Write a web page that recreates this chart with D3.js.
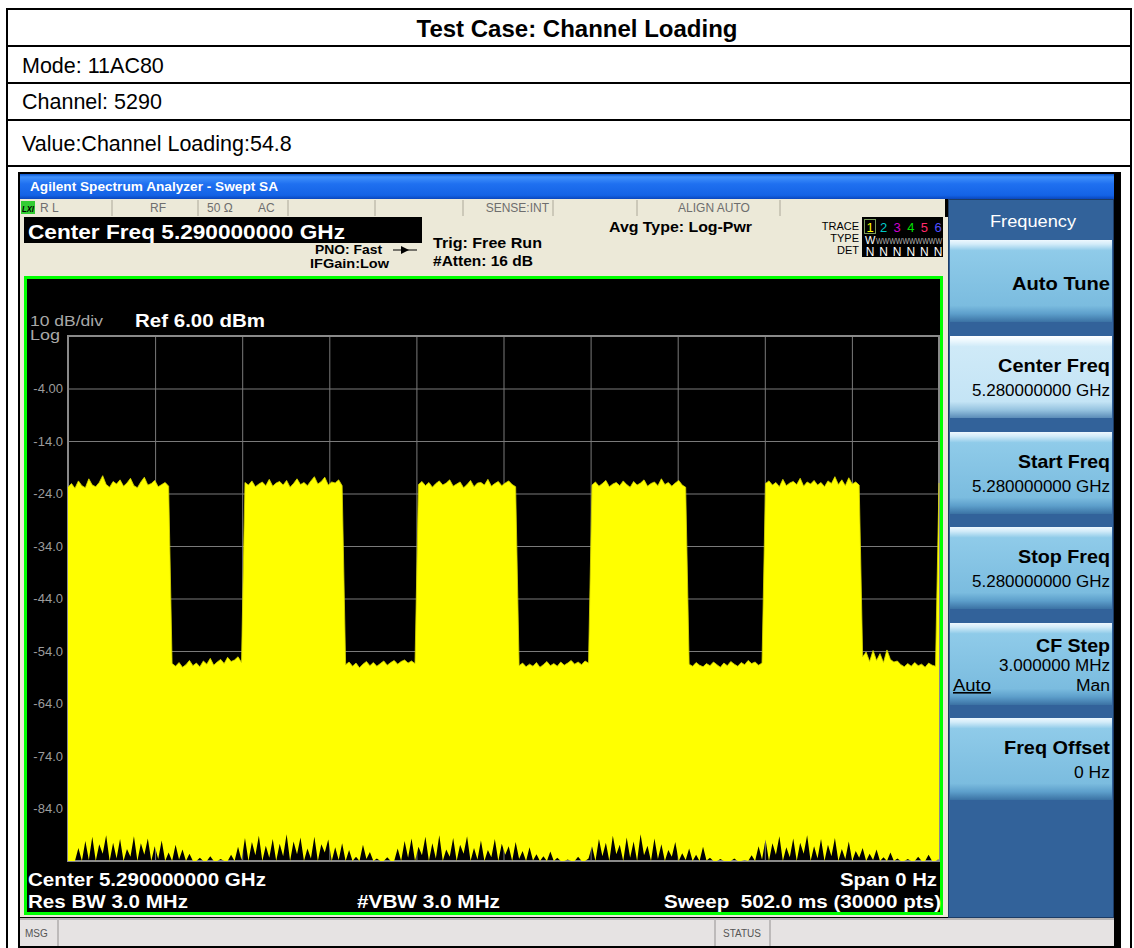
<!DOCTYPE html>
<html>
<head>
<meta charset="utf-8">
<title>Test Case: Channel Loading</title>
<script src="https://d3js.org/d3.v7.min.js"></script>
<style>
  body { margin: 0; background: #fff; }
  svg { display: block; }
  text { font-family: "Liberation Sans", Arial, sans-serif; white-space: pre; }
</style>
</head>
<body>
<svg id="page" width="1134" height="948"></svg>
<script>
// ---- values ----
const caseTitle = 'Test Case: Channel Loading';
const caseRows = ['Mode: 11AC80', 'Channel: 5290', 'Value:Channel Loading:54.8'];

const refLevel = 6;          // dBm, top of graticule
const dbPerDiv = 10;
const yDivs = 10, xDivs = 10;
const sweepMs = 502;
const sampleStepMs = 2;      // one envelope value every 2 ms
const yTickValues = [-4, -14, -24, -34, -44, -54, -64, -74, -84];
const yTickLabels = ['-4.00', '-14.0', '-24.0', '-34.0', '-44.0', '-54.0', '-64.0', '-74.0', '-84.0'];

// upper envelope of the zero-span trace (dBm)
const traceMax = [
  -22.8,-22.1,-23.0,-21.6,-22.5,-22.9,-21.2,-22.4,-22.7,-21.9,-20.6,-22.3,-22.8,-21.7,-22.2,-21.4,-22.6,-22.0,-21.1,-22.5,-22.9,-21.8,-20.9,-22.4,-22.1,-21.5,-22.7,-22.3,-21.9,-22.6,
  -56.4,-56.9,-56.2,-57.1,-56.6,-55.8,-56.8,-56.3,-57.0,-55.9,-56.5,-55.4,-56.7,-56.1,-55.6,-56.4,-55.2,-56.0,-55.7,-55.1,-56.2,
  -21.9,-22.4,-21.6,-22.7,-22.2,-21.8,-22.5,-21.3,-22.6,-22.0,-21.7,-22.4,-21.5,-22.8,-22.1,-21.2,-22.3,-21.9,-22.5,-21.6,-20.8,-22.2,-21.7,-20.9,-22.4,-21.8,-22.0,-21.4,-22.5,
  -56.6,-56.1,-56.9,-56.3,-57.2,-56.5,-56.0,-56.8,-56.2,-56.9,-56.4,-55.9,-56.7,-56.2,-55.8,-56.5,-56.0,-55.7,-56.3,-55.9,-56.4,
  -22.3,-21.7,-22.5,-21.9,-22.8,-22.1,-21.6,-22.4,-22.0,-21.4,-22.6,-22.2,-21.8,-22.9,-22.3,-21.5,-22.7,-22.0,-21.9,-22.4,-21.3,-22.6,-22.1,-21.7,-22.5,-22.0,-21.6,-22.3,-22.7,
  -56.8,-56.3,-57.0,-56.5,-56.9,-56.2,-57.1,-56.6,-56.0,-56.8,-56.4,-56.9,-56.1,-56.7,-56.3,-55.8,-56.5,-56.1,-56.6,-55.9,-56.3,
  -22.4,-21.8,-22.6,-22.1,-21.5,-22.7,-22.2,-21.9,-22.5,-21.6,-22.3,-22.8,-21.7,-22.4,-22.0,-21.4,-22.6,-22.1,-21.8,-22.5,-21.2,-22.3,-21.9,-22.6,-22.0,-21.5,-22.4,-22.8,
  -56.5,-56.9,-56.2,-56.7,-57.0,-56.4,-56.8,-56.1,-56.6,-57.1,-56.3,-56.8,-56.0,-56.5,-56.9,-56.2,-56.6,-55.8,-56.4,-56.1,-56.7,-56.3,
  -22.1,-21.6,-22.4,-21.9,-22.7,-21.3,-22.5,-22.0,-21.7,-22.3,-21.1,-22.6,-21.8,-22.2,-21.5,-22.4,-21.9,-22.7,-21.6,-22.1,-20.8,-22.3,-21.4,-22.5,-21.0,-22.2,-21.8,-22.4,
  -55.1,-54.2,-56.0,-53.9,-55.8,-54.5,-56.2,-53.8,-55.6,-56.1,-55.9,-56.6,-57.0,-56.4,-56.9,-56.2,-56.8,-56.5,-57.1,-56.3,-56.7,-56.9,
  -22.0
];

// lower envelope (noise floor spikes at the bottom of the screen)
const traceMin = [
  -94,-94,-94,-91.5,-94,-90.2,-93.8,-89.4,-94,-90.8,
  -92.6,-89.1,-94,-90.5,-93.5,-89.8,-94,-91.7,-93.2,-89.3,
  -94,-90.6,-92.8,-89.7,-94,-91.2,-93.6,-90.1,-94,-92.4,
  -94,-90.9,-93.7,-91.8,-94,-92.6,-94,-94,-93.4,-94,
  -94,-93.1,-94,-94,-93.6,-94,-94,-92.8,-94,-91.3,
  -93.8,-89.6,-94,-90.4,-92.9,-89.2,-94,-91.1,-93.4,-89.8,
  -94,-90.7,-93.1,-88.9,-94,-90.3,-92.7,-89.5,-94,-91.6,
  -93.5,-89.4,-94,-90.8,-92.4,-89.9,-94,-91.4,-93.8,-90.6,
  -94,-91.9,-94,-93.2,-94,-90.9,-93.6,-92.3,-94,-93.5,
  -94,-94,-93.3,-94,-94,-91.6,-94,-90.2,-93.4,-89.7,
  -94,-91.3,-92.9,-89.4,-94,-90.6,-93.5,-89.1,-94,-91.8,
  -93.2,-89.6,-94,-90.9,-92.6,-89.3,-94,-91.5,-93.7,-90.1,
  -94,-91.9,-93.3,-89.8,-94,-90.7,-92.8,-91.2,-94,-90.4,
  -93.6,-92.1,-94,-91.4,-93.9,-92.7,-94,-93.1,-94,-92.2,
  -94,-93.4,-94,-94,-93.7,-94,-94,-93.2,-94,-94,
  -93.5,-91.2,-94,-89.8,-93.1,-90.5,-94,-89.2,-92.7,-90.9,
  -94,-89.5,-93.4,-90.3,-94,-88.9,-92.9,-91.1,-94,-89.7,
  -93.6,-90.8,-94,-91.9,-93.2,-90.4,-94,-92.5,-93.8,-91.6,
  -94,-92.8,-94,-91.3,-93.9,-93.4,-94,-94,-93.6,-94,
  -94,-94,-93.5,-94,-94,-93.8,-94,-92.9,-94,-91.2,
  -93.7,-89.9,-94,-90.6,-92.8,-89.3,-94,-91.4,-93.3,-89.7,
  -94,-90.5,-92.6,-89.1,-94,-91.2,-93.5,-89.8,-94,-90.9,
  -93.1,-89.6,-94,-91.7,-93.6,-90.3,-94,-92.1,-93.4,-91.5,
  -94,-92.6,-93.8,-91.8,-94,-93.3,-94,-92.4,-94,-93.5,
  -94,-94,-93.6,-94,-94,-93.2,-94,-94,-92.8,-94,
  -94,-93.6
];

// status / softkey texts
const statusCells = ['R L', 'RF', '50 \u03A9', 'AC', 'SENSE:INT', 'ALIGN AUTO'];
const traceDigits = ['1', '2', '3', '4', '5', '6'];
const traceColors = ['#ffff00', '#00c8c8', '#d000d0', '#00e000', '#ff2a6a', '#5050ff'];
const softKeyLabels = ['Auto Tune', 'Center Freq', 'Start Freq', 'Stop Freq', 'CF Step', 'Freq Offset'];
const softKeyValues = ['', '5.280000000 GHz', '5.280000000 GHz', '5.280000000 GHz', '3.000000 MHz', '0 Hz'];

const svg = d3.select('#page');
const defs = svg.append('defs');

function vGrad(id, stops) {
    const g = defs.append('linearGradient').attr('id', id)
        .attr('x1', 0).attr('y1', 0).attr('x2', 0).attr('y2', 1);
    stops.forEach(([o, c]) => g.append('stop').attr('offset', o).attr('stop-color', c));
}
vGrad('titleGrad', [[0, '#0a56d0'], [0.12, '#3f90fb'], [0.4, '#1f70f0'], [0.85, '#1463e6'], [1, '#0a47bd']]);
vGrad('keyGrad', [[0, '#eef8fe'], [0.05, '#d3ecf9'], [0.13, '#8fcbe9'], [0.8, '#7bbcdf'], [0.9, '#5d9fcb'], [1, '#3b72a4']]);
vGrad('keySelGrad', [[0, '#ffffff'], [0.05, '#eff9fe'], [0.13, '#cfeaf8'], [0.8, '#c4e4f5'], [0.9, '#97c4e0'], [1, '#5b8cb8']]);

// small text helper; len stretches the string to the width measured on the screenshot
function txt(g, x, y, s, o = {}) {
    const t = g.append('text')
        .attr('x', x).attr('y', y)
        .attr('font-size', o.size || 12)
        .attr('font-weight', o.bold ? 'bold' : 'normal')
        .attr('fill', o.fill || '#000')
        .attr('text-anchor', o.anchor || 'start')
        .text(s);
    if (o.len) t.attr('textLength', o.len).attr('lengthAdjust', 'spacingAndGlyphs');
    return t;
}

// ---- report table around the screenshot ----
const table = svg.append('g');
[9, 46, 83, 120, 166].forEach(yy => {
    table.append('line').attr('x1', 6).attr('x2', 1131).attr('y1', yy).attr('y2', yy)
        .attr('stroke', '#000').attr('stroke-width', 2);
});
[7, 1131].forEach(xx => {
    table.append('line').attr('x1', xx).attr('x2', xx).attr('y1', 8).attr('y2', 948)
        .attr('stroke', '#000').attr('stroke-width', 2);
});
txt(table, 577, 37, caseTitle, { size: 24, bold: true, anchor: 'middle' });
[73, 109, 151].forEach((yy, i) => txt(table, 22, yy, caseRows[i], { size: 21.5 }));

// ---- analyzer window ----
const scr = svg.append('g');
scr.append('rect').attr('x', 18).attr('y', 172).attr('width', 1103).attr('height', 776).attr('fill', '#000');
scr.append('rect').attr('x', 20).attr('y', 174).attr('width', 1094).attr('height', 25).attr('fill', 'url(#titleGrad)');
txt(scr, 30, 191, 'Agilent Spectrum Analyzer - Swept SA', { size: 13, bold: true, fill: '#fff', len: 248 });

// status row
scr.append('rect').attr('x', 20).attr('y', 199).attr('width', 925).attr('height', 18).attr('fill', '#ece9d8');
[112, 198, 288, 375, 463, 553, 637, 780].forEach(xx => {
    scr.append('line').attr('x1', xx).attr('x2', xx).attr('y1', 200).attr('y2', 216).attr('stroke', '#aca899');
});
scr.append('rect').attr('x', 21).attr('y', 201).attr('width', 14).attr('height', 13).attr('fill', '#33cc33');
txt(scr, 22, 212, 'LXI', { size: 9, bold: true, len: 12 }).attr('font-style', 'italic');
[[40, 0], [150, 1], [207, 2], [258, 3]].forEach(([xx, i]) => txt(scr, xx, 212, statusCells[i], { size: 12, fill: '#6e6e6e' }));
txt(scr, 549, 212, statusCells[4], { size: 12, fill: '#6e6e6e', anchor: 'end' });
txt(scr, 714, 212, statusCells[5], { size: 12, fill: '#6e6e6e', anchor: 'middle' });

// header block
scr.append('rect').attr('x', 20).attr('y', 217).attr('width', 928).attr('height', 59).attr('fill', '#ece9d8');
scr.append('rect').attr('x', 24).attr('y', 217).attr('width', 398).attr('height', 26).attr('fill', '#000');
txt(scr, 28, 239, 'Center Freq 5.290000000 GHz', { size: 20, bold: true, fill: '#fff', len: 317 });
txt(scr, 382, 254, 'PNO: Fast', { size: 13.5, bold: true, anchor: 'end', len: 67 });
txt(scr, 389, 268, 'IFGain:Low', { size: 13.5, bold: true, anchor: 'end', len: 79 });
scr.append('line').attr('x1', 393).attr('x2', 417).attr('y1', 250).attr('y2', 250).attr('stroke', '#000');
scr.append('path').attr('d', 'M401,246 L409,250 L401,254 Z').attr('fill', '#000');
txt(scr, 433, 248, 'Trig: Free Run', { size: 15, bold: true, len: 109 });
txt(scr, 433, 266, '#Atten: 16 dB', { size: 15, bold: true, len: 100 });
txt(scr, 609, 232, 'Avg Type: Log-Pwr', { size: 15, bold: true, len: 143 });

// trace indicator block
[['TRACE', 230], ['TYPE', 242], ['DET', 254]].forEach(([s, yy]) => txt(scr, 859, yy, s, { size: 11, anchor: 'end' }));
scr.append('rect').attr('x', 862).attr('y', 217).attr('width', 81).attr('height', 40).attr('fill', '#000');
scr.append('rect').attr('x', 864.5).attr('y', 219.5).attr('width', 11).attr('height', 14).attr('fill', 'none').attr('stroke', '#7a9a5a');
traceDigits.forEach((d, i) => {
    txt(scr, 870 + i * 13.6, 232, d, { size: 13, fill: traceColors[i], anchor: 'middle' });
    txt(scr, 870 + i * 13.6, 256, 'N', { size: 12, fill: '#fff', anchor: 'middle' });
});
txt(scr, 865, 244, 'W', { size: 11, fill: '#fff' });
txt(scr, 876, 244, 'WWWWWWWWWW', { size: 9, fill: '#b0b0b0', len: 66 });

// ---- measurement screen ----
const plotBox = { left: 68, right: 939, top: 336, bottom: 861 };
scr.append('rect').attr('x', 20).attr('y', 276).attr('width', 928).attr('height', 641).attr('fill', '#ece9d8');
scr.append('rect').attr('x', 25.5).attr('y', 277.5).attr('width', 916).attr('height', 636)
    .attr('fill', '#000').attr('stroke', '#00ff00').attr('stroke-width', 3);

const x = d3.scaleLinear().domain([0, sweepMs]).range([plotBox.left, plotBox.right]);
const y = d3.scaleLinear().domain([refLevel - yDivs * dbPerDiv, refLevel]).range([plotBox.bottom, plotBox.top]);

txt(scr, 30, 326, '10 dB/div', { size: 14, fill: '#a8a8a8', len: 73 });
txt(scr, 30, 340, 'Log', { size: 14, fill: '#a8a8a8', len: 30 });
txt(scr, 135, 327, 'Ref 6.00 dBm', { size: 18, bold: true, fill: '#fff', len: 130 });

// graticule
const xGridVals = d3.range(1, xDivs).map(i => i * sweepMs / xDivs);
scr.append('g').attr('transform', `translate(0,${plotBox.bottom})`)
    .call(d3.axisBottom(x).tickValues(xGridVals).tickSize(-(plotBox.bottom - plotBox.top)).tickFormat(''))
    .call(g => g.select('.domain').remove())
    .call(g => g.selectAll('line').attr('stroke', '#7a7a7a'));
scr.append('g').attr('transform', `translate(${plotBox.left},0)`)
    .call(d3.axisLeft(y).tickValues(yTickValues).tickSize(-(plotBox.right - plotBox.left)).tickPadding(5)
        .tickFormat((d, i) => yTickLabels[i]))
    .call(g => g.select('.domain').remove())
    .call(g => g.selectAll('line').attr('stroke', '#7a7a7a'))
    .call(g => g.selectAll('text').attr('fill', '#9c9c9c').attr('font-size', 13)
        .attr('font-family', '"Liberation Sans", Arial, sans-serif'));
scr.append('rect').attr('x', plotBox.left).attr('y', plotBox.top)
    .attr('width', plotBox.right - plotBox.left).attr('height', plotBox.bottom - plotBox.top)
    .attr('fill', 'none').attr('stroke', '#8a8a8a').attr('stroke-width', 2);

// trace: filled between lower and upper envelope
const pts = traceMax.map((v, i) => ({ t: i * sampleStepMs, hi: v, lo: traceMin[i] }));
const area = d3.area().x(d => x(d.t)).y0(d => y(d.lo)).y1(d => y(d.hi));
scr.append('path').datum(pts).attr('d', area).attr('fill', '#ffff00');
scr.append('path').datum(pts)
    .attr('d', d3.line().x(d => x(d.t)).y(d => y(d.hi)))
    .attr('fill', 'none').attr('stroke', '#d8d800').attr('stroke-width', 0.8);

txt(scr, 28, 886, 'Center 5.290000000 GHz', { size: 18, bold: true, fill: '#fff', len: 238 });
txt(scr, 28, 908, 'Res BW 3.0 MHz', { size: 18, bold: true, fill: '#fff', len: 160 });
txt(scr, 357, 908, '#VBW 3.0 MHz', { size: 18, bold: true, fill: '#fff', len: 143 });
txt(scr, 937, 886, 'Span 0 Hz', { size: 18, bold: true, fill: '#fff', anchor: 'end', len: 97 });
txt(scr, 941, 908, 'Sweep  502.0 ms (30000 pts)', { size: 18, bold: true, fill: '#fff', anchor: 'end', len: 277 });

// ---- softkey panel ----
scr.append('rect').attr('x', 948).attr('y', 199).attr('width', 166).attr('height', 719).attr('fill', '#32629a');
scr.append('rect').attr('x', 948.5).attr('y', 199.5).attr('width', 165).attr('height', 718)
    .attr('fill', 'none').attr('stroke', '#1c3c66');
txt(scr, 1033, 227, 'Frequency', { size: 16, fill: '#fff', anchor: 'middle', len: 86 });

const keyTops = [240, 336, 432, 527, 623, 718];
const keyLabelLens = [98, 112, 92, 92, 74, 106];
const keyValueLens = [0, 138, 138, 138, 111, 36];
keyTops.forEach((top, i) => {
    scr.append('rect').attr('x', 950).attr('y', top).attr('width', 162).attr('height', 82)
        .attr('fill', i === 1 ? 'url(#keySelGrad)' : 'url(#keyGrad)');
    const lbl = softKeyLabels[i], val = softKeyValues[i];
    const lo = { size: 19, bold: true, anchor: 'end', len: keyLabelLens[i] };
    const vo = { size: 16, anchor: 'end', len: keyValueLens[i] };
    if (!val) {
        txt(scr, 1110, top + 50, lbl, lo);
    } else if (i === 4) {
        txt(scr, 1110, top + 29, lbl, lo);
        txt(scr, 1110, top + 48, val, vo);
        txt(scr, 953, top + 68, 'Auto', { size: 16, len: 38 }).attr('text-decoration', 'underline');
        txt(scr, 1110, top + 68, 'Man', { size: 16, anchor: 'end', len: 34 });
    } else {
        txt(scr, 1110, top + 36, lbl, lo);
        txt(scr, 1110, top + 60, val, vo);
    }
});

// ---- message bar ----
scr.append('rect').attr('x', 20).attr('y', 918).attr('width', 1094).attr('height', 28).attr('fill', '#e6e3e3');
scr.append('line').attr('x1', 20).attr('x2', 1114).attr('y1', 919).attr('y2', 919).attr('stroke', '#b8b5b5').attr('stroke-width', 2);
[58, 715, 770].forEach(xx => {
    scr.append('line').attr('x1', xx).attr('x2', xx).attr('y1', 919).attr('y2', 946).attr('stroke', '#bdbaba').attr('stroke-width', 2);
});
txt(scr, 25, 937, 'MSG', { size: 10, fill: '#555' });
txt(scr, 742, 937, 'STATUS', { size: 10, fill: '#555', anchor: 'middle' });
</script>
</body>
</html>
